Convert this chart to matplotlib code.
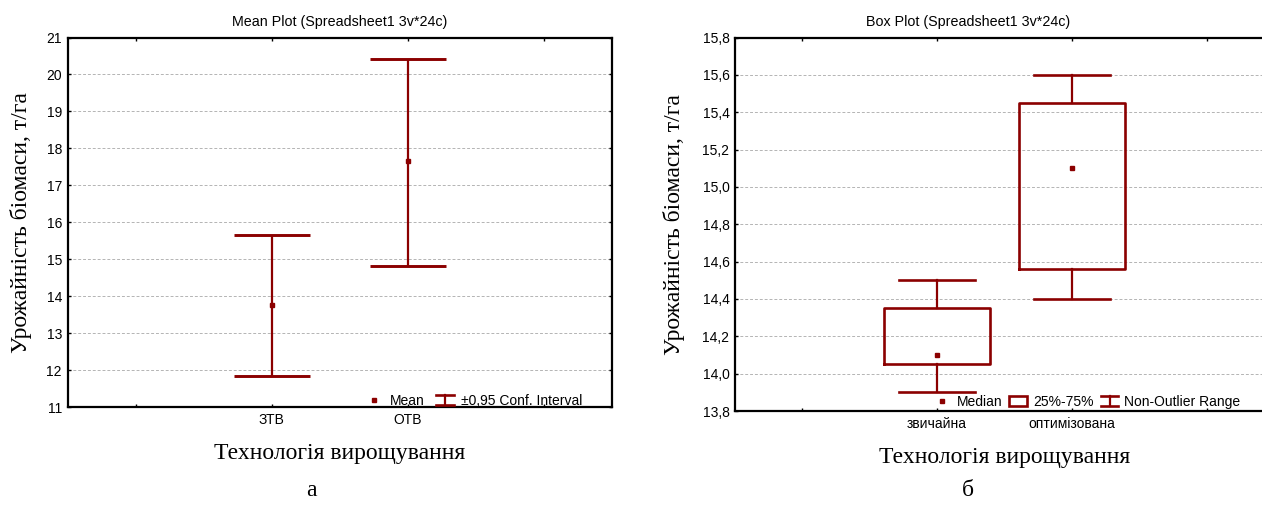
import matplotlib
matplotlib.use("Agg")
import matplotlib.pyplot as plt
from matplotlib.lines import Line2D
from matplotlib.patches import Rectangle
from matplotlib.legend_handler import HandlerBase

# ---------------- data ----------------
mean_categories = ["ЗТВ", "ОТВ"]
mean_values = [13.77, 17.66]
ci_lower = [11.83, 14.83]
ci_upper = [15.65, 20.42]

box_categories = ["звичайна", "оптимізована"]
box_median = [14.10, 15.10]
box_q1 = [14.05, 14.56]
box_q3 = [14.35, 15.45]
box_min = [13.90, 14.40]
box_max = [14.50, 15.60]

mean_yticks = [11, 12, 13, 14, 15, 16, 17, 18, 19, 20, 21]
box_yticks = [13.8, 14.0, 14.2, 14.4, 14.6, 14.8, 15.0, 15.2, 15.4, 15.6, 15.8]

# ---------------- style ----------------
RED = "#8b0000"
SANS = ["Liberation Sans", "DejaVu Sans"]
SERIF = ["Liberation Serif", "DejaVu Serif"]
plt.rcParams["font.family"] = SANS
TICK_FS = 10
TITLE_FS = 10.3
LEG_FS = 10
BIG_FS = 17

fig = plt.figure(figsize=(12.62, 5.07), dpi=100)
ax1 = fig.add_axes([0.0535, 0.1972, 0.4315, 0.7288])
ax2 = fig.add_axes([0.5824, 0.1893, 0.4271, 0.7367])


class HandlerIBar(HandlerBase):
    def create_artists(self, legend, orig_handle, xdescent, ydescent,
                       width, height, fontsize, trans):
        cx = width / 2 - xdescent
        y0 = -ydescent
        y1 = height - ydescent
        w = width * 0.45
        return [
            Line2D([cx, cx], [y0, y1], color=RED, lw=1.6, transform=trans),
            Line2D([cx - w, cx + w], [y0, y0], color=RED, lw=1.9, transform=trans),
            Line2D([cx - w, cx + w], [y1, y1], color=RED, lw=1.9, transform=trans),
        ]


class IBar:
    pass


def style_axes(ax, yticks, fmt):
    ax.set_xlim(-1.5, 2.5)
    ax.set_ylim(yticks[0], yticks[-1])
    ax.set_yticks(yticks)
    ax.set_yticklabels([fmt(v) for v in yticks], fontsize=TICK_FS)
    ax.set_xticks([-1, 0, 1, 2])
    for s in ax.spines.values():
        s.set_linewidth(1.6)
        s.set_color("black")
    ax.tick_params(axis="both", direction="in", length=2.5, width=1,
                   top=True, right=True, pad=4)
    ax.grid(axis="y", color="#b4b4b4", linestyle=(0, (3, 2)), linewidth=0.7)
    ax.set_axisbelow(True)


# ---------------- left: mean plot ----------------
style_axes(ax1, mean_yticks, lambda v: f"{v:d}")
xs = list(range(len(mean_categories)))
cap = 0.28
ax1.vlines(xs, ci_lower, ci_upper, color=RED, lw=1.6, zorder=3)
ax1.hlines(ci_lower, [x - cap for x in xs], [x + cap for x in xs], color=RED, lw=2.1, zorder=3)
ax1.hlines(ci_upper, [x - cap for x in xs], [x + cap for x in xs], color=RED, lw=2.1, zorder=3)
ax1.plot(xs, mean_values, linestyle="none", marker="s", markersize=3.2,
         color=RED, zorder=4)
ax1.set_xticklabels(["", mean_categories[0], mean_categories[1], ""], fontsize=TICK_FS)
ax1.set_title("Mean Plot (Spreadsheet1 3v*24c)", fontsize=TITLE_FS, pad=8.5)
ax1.set_ylabel("Урожайність біомаси, т/га", fontsize=BIG_FS, family=SERIF)
ax1.yaxis.label.set_va("center")
ax1.yaxis.set_label_coords((21 - 67.5) / 544.5, 0.5)
ax1.set_xlabel("Технологія вирощування", fontsize=BIG_FS, family=SERIF)
ax1.xaxis.label.set_va("center")
ax1.xaxis.set_label_coords(0.5, -(453 - 407) / 369.5)

h_mean = Line2D([], [], linestyle="none", marker="s", markersize=3.2, color=RED)
ax1.legend([h_mean, IBar()], ["Mean", "±0,95 Conf. Interval"],
           handler_map={IBar: HandlerIBar()}, ncol=2, frameon=False,
           loc="lower right", bbox_to_anchor=((585 - 67.5) / 544.5, -0.009),
           fontsize=LEG_FS, handlelength=1.5, handletextpad=0.4,
           columnspacing=0.7, borderpad=0.2, borderaxespad=0)

# ---------------- right: box plot ----------------
style_axes(ax2, box_yticks, lambda v: f"{v:.1f}".replace(".", ","))
stats = []
for i in range(len(box_categories)):
    stats.append(dict(label=box_categories[i], med=box_median[i],
                      q1=box_q1[i], q3=box_q3[i],
                      whislo=box_min[i], whishi=box_max[i], fliers=[]))
bx = list(range(len(box_categories)))
ax2.bxp(stats, positions=bx, widths=0.79, capwidths=0.56,
        showfliers=False, manage_ticks=False,
        boxprops=dict(color=RED, linewidth=1.9),
        whiskerprops=dict(color=RED, linewidth=1.6),
        capprops=dict(color=RED, linewidth=1.9),
        medianprops=dict(visible=False))
ax2.plot(bx, box_median, linestyle="none", marker="s", markersize=3.2,
         color=RED, zorder=4)
ax2.set_xticklabels(["", box_categories[0], box_categories[1], ""], fontsize=TICK_FS)
ax2.set_title("Box Plot (Spreadsheet1 3v*24c)", fontsize=TITLE_FS, pad=8.5,
              x=(968 - 735) / 539)
ax2.set_ylabel("Урожайність біомаси, т/га", fontsize=BIG_FS, family=SERIF)
ax2.yaxis.label.set_va("center")
ax2.yaxis.set_label_coords((674 - 735) / 539, 0.5)
ax2.set_xlabel("Технологія вирощування", fontsize=BIG_FS, family=SERIF)
ax2.xaxis.label.set_va("center")
ax2.xaxis.set_label_coords(0.5, -(457 - 411) / 373.5)

h_med = Line2D([], [], linestyle="none", marker="s", markersize=3.2, color=RED)
h_box = Rectangle((0, 0), 1, 1, facecolor="white", edgecolor=RED, linewidth=1.9)
ax2.legend([h_med, h_box, IBar()], ["Median", "25%-75%", "Non-Outlier Range"],
           handler_map={IBar: HandlerIBar()}, ncol=3, frameon=False,
           loc="lower right", bbox_to_anchor=((1243 - 735) / 539, -0.001),
           fontsize=LEG_FS, handlelength=1.3, handletextpad=0.4,
           columnspacing=0.5, borderpad=0.2, borderaxespad=0)

fig.text(311 / 1262, 1 - 491 / 507, "а", fontsize=BIG_FS, family=SERIF,
         ha="center", va="center")
fig.text(968 / 1262, 1 - 491 / 507, "б", fontsize=BIG_FS, family=SERIF,
         ha="center", va="center")

fig.savefig("out.png", dpi=100)
